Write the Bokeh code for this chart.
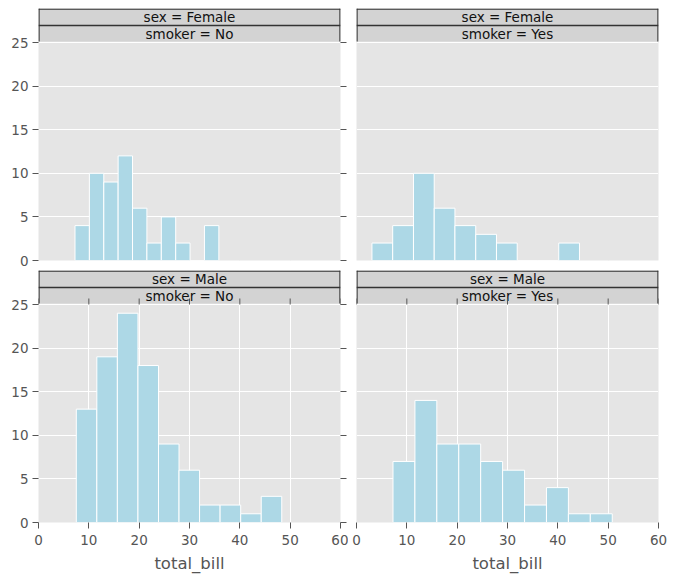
from bokeh.plotting import figure
from bokeh.models import LinearAxis, FixedTicker, Grid, Range1d
from bokeh.layouts import column, row
from bokeh.embed import file_html
from bokeh.resources import INLINE
from bokeh.core.properties import value

# ---------------- data ----------------
female_no_edges = [7.25, 10.11, 12.97, 15.82, 18.68, 21.54, 24.40, 27.26, 30.11, 32.97, 35.83]
female_no_counts = [4, 10, 9, 12, 6, 2, 5, 2, 0, 4]
female_yes_edges = [3.07, 7.19, 11.32, 15.44, 19.56, 23.69, 27.81, 31.93, 36.05, 40.18, 44.30]
female_yes_counts = [2, 4, 10, 6, 4, 3, 2, 0, 0, 2]
male_no_edges = [7.51, 11.59, 15.67, 19.76, 23.84, 27.92, 32.00, 36.08, 40.17, 44.25, 48.33]
male_no_counts = [13, 19, 24, 18, 9, 6, 2, 2, 1, 3]
male_yes_edges = [7.25, 11.61, 15.96, 20.32, 24.67, 29.03, 33.39, 37.74, 42.10, 46.45, 50.81]
male_yes_counts = [7, 14, 9, 9, 7, 6, 2, 4, 1, 1]

sex_values = ["Female", "Male"]
smoker_values = ["No", "Yes"]
x_ticks = [0, 10, 20, 30, 40, 50, 60]
y_ticks = [0, 5, 10, 15, 20, 25]
x_label = "total_bill"

# ---------------- style / geometry ----------------
FONT = "DejaVu Sans"
GRAY = "#555555"
BG = "#E5E5E5"
BAR = "#ADD8E6"
STRIP = "#D3D3D3"
STRIP_LINE = "#333333"
FRAME_W = 302
PLOT_H = 218
STRIP_H = 17
FRAME_H = PLOT_H + 2 * STRIP_H
X_MIN, X_MAX = 0, 60
Y_MAX = 25
PX_Y = Y_MAX / PLOT_H
PX_X = (X_MAX - X_MIN) / FRAME_W
Y_TOP = Y_MAX + 2 * STRIP_H * PX_Y


def panel(edges, counts, sex, smoker, left, bottom):
    p = figure(frame_width=FRAME_W, frame_height=FRAME_H,
               x_range=Range1d(X_MIN, X_MAX), y_range=Range1d(0, Y_TOP),
               x_axis_location=None, y_axis_location=None,
               toolbar_location=None, output_backend="svg",
               background_fill_color=BG, border_fill_color="white",
               outline_line_color=None,
               min_border_left=38 if left else 8,
               min_border_right=8 if left else 10,
               min_border_top=0 if bottom else 8,
               min_border_bottom=58 if bottom else 10)

    p.add_layout(Grid(dimension=1, ticker=FixedTicker(ticks=y_ticks),
                      grid_line_color="white", grid_line_width=1))
    if bottom:
        p.add_layout(Grid(dimension=0, ticker=FixedTicker(ticks=x_ticks),
                          grid_line_color="white", grid_line_width=1))

    p.quad(left=edges[:-1], right=edges[1:], bottom=0, top=counts,
           fill_color=BAR, line_color="white", line_width=1)

    # facet strips
    s_mid = Y_MAX + STRIP_H * PX_Y
    p.quad(left=X_MIN, right=X_MAX, bottom=Y_MAX + 1.0 * PX_Y, top=Y_TOP,
           fill_color=STRIP, line_color=None)
    p.multi_line(xs=[[X_MIN + 0.5 * PX_X, X_MIN + 0.5 * PX_X],
                     [X_MAX - 0.5 * PX_X, X_MAX - 0.5 * PX_X],
                     [X_MIN, X_MAX], [X_MIN, X_MAX]],
                 ys=[[Y_MAX + 1.0 * PX_Y, Y_TOP], [Y_MAX + 1.0 * PX_Y, Y_TOP],
                     [Y_TOP - 0.6 * PX_Y, Y_TOP - 0.6 * PX_Y], [s_mid, s_mid]],
                 line_color=STRIP_LINE, line_width=1.3)
    p.text(x=[(X_MIN + X_MAX) / 2] * 2,
           y=[(s_mid + Y_TOP) / 2, (Y_MAX + s_mid) / 2],
           text=["sex = " + sex, "smoker = " + smoker],
           text_align="center", text_baseline="middle",
           text_font=value(FONT), text_font_size="13.5px", text_color="#111111")

    if bottom:
        p.segment(x0=x_ticks, x1=x_ticks, y0=[Y_MAX] * len(x_ticks),
                  y1=[Y_MAX + 6 * PX_Y] * len(x_ticks),
                  line_color=GRAY, line_width=1)
        xa = LinearAxis(ticker=FixedTicker(ticks=x_ticks), axis_line_color=None,
                        major_tick_line_color=GRAY, major_tick_out=6, major_tick_in=0,
                        minor_tick_line_color=None,
                        major_label_text_font=FONT, major_label_text_font_size="13.5px",
                        major_label_text_color=GRAY, major_label_standoff=6,
                        axis_label=x_label, axis_label_text_font=FONT,
                        axis_label_text_font_size="16.5px",
                        axis_label_text_font_style="normal",
                        axis_label_text_color=GRAY, axis_label_standoff=6)
        p.add_layout(xa, "below")

    if left:
        ya = LinearAxis(ticker=FixedTicker(ticks=y_ticks), axis_line_color=None,
                        major_tick_line_color=GRAY, major_tick_out=6, major_tick_in=0,
                        minor_tick_line_color=None,
                        major_label_text_font=FONT, major_label_text_font_size="13.5px",
                        major_label_text_color=GRAY, major_label_standoff=4)
        p.add_layout(ya, "left")
        yr = LinearAxis(ticker=FixedTicker(ticks=y_ticks), axis_line_color=None,
                        major_tick_line_color=GRAY, major_tick_out=6, major_tick_in=0,
                        minor_tick_line_color=None,
                        major_label_overrides={t: "" for t in y_ticks},
                        major_label_text_font_size="1px", major_label_standoff=0)
        p.add_layout(yr, "right")
    return p


tl = panel(female_no_edges, female_no_counts, sex_values[0], smoker_values[0], True, False)
tr = panel(female_yes_edges, female_yes_counts, sex_values[0], smoker_values[1], False, False)
bl = panel(male_no_edges, male_no_counts, sex_values[1], smoker_values[0], True, True)
br = panel(male_yes_edges, male_yes_counts, sex_values[1], smoker_values[1], False, True)

layout = column(row(tl, tr, spacing=0), row(bl, br, spacing=0), spacing=0)
open("out.html", "w").write(file_html(layout, INLINE))
